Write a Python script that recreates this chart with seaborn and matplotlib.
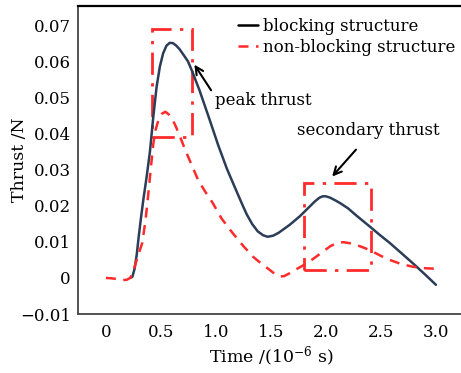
import matplotlib
matplotlib.use("Agg")
import matplotlib.pyplot as plt
import seaborn as sns
import pandas as pd
from matplotlib.lines import Line2D
from matplotlib.patches import Rectangle

# blocking structure
t_block = [0.22, 0.24, 0.26, 0.28, 0.30, 0.32, 0.34, 0.37, 0.40, 0.43, 0.46, 0.49, 0.52,
           0.55, 0.58, 0.61, 0.64, 0.67, 0.70, 0.745, 0.78, 0.85, 0.945, 1.02, 1.10, 1.19,
           1.24, 1.28, 1.33, 1.38, 1.43, 1.47, 1.52, 1.57, 1.67, 1.76, 1.81, 1.86, 1.90,
           1.94, 1.97, 2.00, 2.04, 2.09, 2.13, 2.20, 2.28, 2.40, 2.49, 2.58, 2.70, 2.80,
           2.90, 3.00]
f_block = [0.0, 0.0003, 0.0025, 0.0065, 0.012, 0.017, 0.0217, 0.028, 0.035, 0.0445, 0.0528,
           0.0585, 0.0622, 0.0643, 0.0651, 0.0650, 0.0643, 0.0633, 0.0620, 0.0600, 0.0575,
           0.052, 0.0436, 0.0368, 0.0302, 0.0238, 0.0203, 0.0176, 0.0149, 0.0129, 0.0118,
           0.0114, 0.0117, 0.0125, 0.0147, 0.0170, 0.0185, 0.0200, 0.0212, 0.0222, 0.0226,
           0.0226, 0.0222, 0.0214, 0.0207, 0.0193, 0.0172, 0.0142, 0.0119, 0.0097, 0.0065,
           0.0038, 0.0010, -0.0019]

# non-blocking structure
t_nonblock = [0.0, 0.05, 0.10, 0.15, 0.19, 0.22, 0.24, 0.26, 0.29, 0.33, 0.36, 0.38, 0.41,
              0.43, 0.45, 0.47, 0.49, 0.51, 0.54, 0.57, 0.61, 0.64, 0.67, 0.72, 0.79, 0.84,
              0.90, 0.97, 1.05, 1.15, 1.25, 1.34, 1.42, 1.49, 1.54, 1.58, 1.62, 1.67, 1.73,
              1.80, 1.88, 1.97, 2.04, 2.11, 2.16, 2.22, 2.28, 2.36, 2.43, 2.50, 2.58, 2.68,
              2.79, 2.90, 3.02]
f_nonblock = [0.0, -0.0001, -0.0003, -0.0006, -0.0005, 0.0, 0.0012, 0.003, 0.006, 0.0097,
              0.016, 0.0217, 0.031, 0.037, 0.0408, 0.043, 0.0444, 0.0455, 0.046, 0.0453,
              0.0436, 0.0416, 0.0394, 0.0355, 0.0305, 0.027, 0.024, 0.0208, 0.0165, 0.0125,
              0.0088, 0.0058, 0.0038, 0.0022, 0.0010, 0.0004, 0.0005, 0.0013, 0.0024, 0.0036,
              0.0052, 0.0072, 0.0088, 0.0098, 0.0099, 0.0096, 0.0091, 0.0082, 0.0072, 0.0061,
              0.0050, 0.0039, 0.0031, 0.0027, 0.0025]

series_labels = ["blocking structure", "non-blocking structure"]
x_ticks = [0, 0.5, 1.0, 1.5, 2.0, 2.5, 3.0]
x_ticklabels = ["0", "0.5", "1.0", "1.5", "2.0", "2.5", "3.0"]
y_ticks = [-0.01, 0, 0.01, 0.02, 0.03, 0.04, 0.05, 0.06, 0.07]
y_ticklabels = ["\u22120.01", "0", "0.01", "0.02", "0.03", "0.04", "0.05", "0.06", "0.07"]

sns.set_theme(style="white")
plt.rcParams["font.family"] = ["DejaVu Serif"]
plt.rcParams["mathtext.fontset"] = "dejavuserif"

NAVY = "#2b3d57"
RED = "#ff2a2a"

fig = plt.figure(figsize=(4.61, 3.73), dpi=100)
ax = fig.add_axes([0.169, 0.158, 0.841, 0.826])

df_b = pd.DataFrame({"t": t_block, "f": f_block})
df_n = pd.DataFrame({"t": t_nonblock, "f": f_nonblock})
sns.lineplot(data=df_b, x="t", y="f", ax=ax, color=NAVY, lw=1.8, sort=False)
sns.lineplot(data=df_n, x="t", y="f", ax=ax, color=RED, lw=1.8, sort=False,
             dashes=False, linestyle=(0, (4, 3)))

# dash-dot boxes
ax.add_patch(Rectangle((0.42, 0.0389), 0.36, 0.0300, fill=False, ec=RED, lw=2.0,
                       linestyle=(0, (8, 3, 1.2, 3))))
ax.add_patch(Rectangle((1.80, 0.0022), 0.61, 0.0242, fill=False, ec=RED, lw=2.0,
                       linestyle=(0, (8, 3, 1.2, 3))))

# annotations
ax.annotate("", xy=(0.79, 0.0597), xytext=(0.97, 0.0513),
            arrowprops=dict(arrowstyle="->", color="black", lw=1.5, mutation_scale=14))
ax.text(0.99, 0.0492, "peak thrust", fontsize=12, va="center", ha="left", color="black")
ax.annotate("", xy=(2.04, 0.0275), xytext=(2.29, 0.0361),
            arrowprops=dict(arrowstyle="->", color="black", lw=1.5, mutation_scale=14))
ax.text(1.74, 0.0408, "secondary thrust", fontsize=12, va="center", ha="left",
        color="black")

ax.set_xlim(-0.255, 3.27)
ax.set_ylim(-0.01, 0.0753)
ax.set_xticks(x_ticks)
ax.set_xticklabels(x_ticklabels)
ax.set_yticks(y_ticks)
ax.set_yticklabels(y_ticklabels)
ax.tick_params(direction="in", length=5, width=1, colors="#333333", labelsize=12,
               labelcolor="black")
ax.tick_params(axis="x", pad=7)
ax.tick_params(axis="y", pad=5)
for s in ["left", "bottom"]:
    ax.spines[s].set_color("#444444")
    ax.spines[s].set_linewidth(1.3)
ax.spines["top"].set_color("black")
ax.spines["top"].set_linewidth(1.6)
ax.spines["right"].set_visible(False)

ax.set_xlabel("Time /(10$^{-6}$ s)", fontsize=12.5, labelpad=3, color="black")
ax.set_ylabel("Thrust /N", fontsize=12.5, color="black")
ax.yaxis.set_label_coords(-0.13, 0.5)

handles = [Line2D([], [], color="black", lw=1.8),
           Line2D([], [], color=RED, lw=1.8, linestyle=(0, (4, 3)))]
ax.legend(handles, series_labels, loc="upper right", bbox_to_anchor=(1.0, 0.995),
          frameon=False, fontsize=12, handlelength=1.2, handletextpad=0.3,
          labelspacing=0.25, borderaxespad=0.2, labelcolor="black")

fig.savefig("out.png", dpi=100)
